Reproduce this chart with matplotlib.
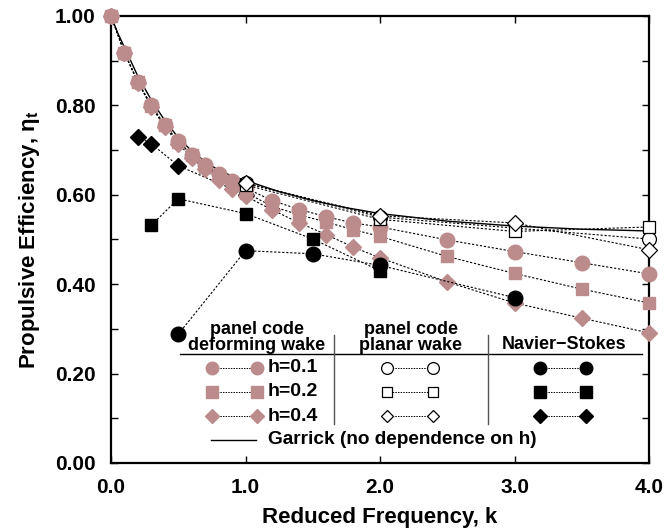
import matplotlib
matplotlib.use("Agg")
import matplotlib.pyplot as plt
from matplotlib.ticker import MultipleLocator, FormatStrFormatter

plt.rcParams['font.family'] = ['Liberation Sans', 'DejaVu Sans']
plt.rcParams['font.weight'] = 'bold'
plt.rcParams['mathtext.fontset'] = 'custom'
plt.rcParams['mathtext.rm'] = 'Liberation Sans'
plt.rcParams['mathtext.it'] = 'Liberation Sans'

PINK = '#BC8B8B'

# ---- data ----
# Garrick theory
k_garrick = [0.0, 0.05, 0.1, 0.2, 0.3, 0.4, 0.5, 0.6, 0.7, 0.8, 0.9, 1.0,
             1.25, 1.5, 1.75, 2.0, 2.5, 3.0, 3.5, 4.0]
eta_garrick = [1.0, 0.962, 0.930, 0.865, 0.812, 0.766, 0.728, 0.698, 0.674, 0.655,
               0.642, 0.632, 0.607, 0.587, 0.571, 0.558, 0.541, 0.530, 0.523, 0.519]

# panel code, deforming wake
k_dw = [0.0, 0.1, 0.2, 0.3, 0.4, 0.5, 0.6, 0.7, 0.8, 0.9, 1.0,
        1.2, 1.4, 1.6, 1.8, 2.0, 2.5, 3.0, 3.5, 4.0]
dw_h01 = [1.00, 0.918, 0.853, 0.800, 0.756, 0.720, 0.690, 0.666, 0.646, 0.630, 0.615,
          0.587, 0.567, 0.551, 0.537, 0.528, 0.499, 0.473, 0.448, 0.423]
dw_h02 = [1.00, 0.918, 0.853, 0.799, 0.755, 0.718, 0.688, 0.663, 0.642, 0.624, 0.605,
          0.574, 0.555, 0.539, 0.522, 0.507, 0.462, 0.424, 0.389, 0.358]
dw_h04 = [1.00, 0.917, 0.851, 0.797, 0.752, 0.714, 0.683, 0.657, 0.634, 0.614, 0.597,
          0.566, 0.537, 0.511, 0.483, 0.459, 0.405, 0.358, 0.324, 0.291]

# panel code, planar wake
k_pw_h01 = [1.0, 2.0, 4.0]
pw_h01 = [0.626, 0.550, 0.501]
k_pw_h02 = [1.0, 2.0, 3.0, 4.0]
pw_h02 = [0.622, 0.545, 0.518, 0.528]
k_pw_h04 = [1.0, 2.0, 3.0, 4.0]
pw_h04 = [0.626, 0.553, 0.537, 0.477]

# Navier-Stokes
k_ns_h01 = [0.5, 1.0, 1.5, 2.0, 3.0]
ns_h01 = [0.288, 0.475, 0.468, 0.442, 0.370]
k_ns_h02 = [0.3, 0.5, 1.0, 1.5, 2.0]
ns_h02 = [0.532, 0.591, 0.558, 0.501, 0.430]
k_ns_h04 = [0.2, 0.3, 0.5, 1.0]
ns_h04 = [0.730, 0.714, 0.665, 0.600]

fig = plt.figure(figsize=(6.65, 5.29), dpi=100)
ax = fig.add_axes([0.1669, 0.1248, 0.8091, 0.845])

dot = dict(color='black', linestyle=(0, (2, 1.6)), linewidth=0.8)

ax.plot(k_garrick, eta_garrick, color='black', linewidth=1.0, zorder=2)

# NS h=0.4 sits under the panel-code markers
ax.plot(k_ns_h04, ns_h04, marker='D', markersize=8, mfc='black', mec='black',
        zorder=3, clip_on=False, **dot)

for vals, m, ms in [(dw_h04, 'D', 8.0), (dw_h02, 's', 8.5), (dw_h01, 'o', 10.5)]:
    ax.plot(k_dw, vals, marker=m, markersize=ms, mfc=PINK, mec=PINK,
            zorder=4, clip_on=False, **dot)

ax.plot(k_ns_h01, ns_h01, marker='o', markersize=10.5, mfc='black', mec='black',
        zorder=5, clip_on=False, **dot)
ax.plot(k_ns_h02, ns_h02, marker='s', markersize=9.0, mfc='black', mec='black',
        zorder=5, clip_on=False, **dot)

ax.plot(k_pw_h01, pw_h01, marker='o', markersize=10, mfc='white', mec='black',
        mew=0.9, zorder=6, clip_on=False, **dot)
ax.plot(k_pw_h02, pw_h02, marker='s', markersize=9, mfc='white', mec='black',
        mew=0.9, zorder=6, clip_on=False, **dot)
ax.plot(k_pw_h04, pw_h04, marker='D', markersize=8, mfc='white', mec='black',
        mew=0.9, zorder=6, clip_on=False, **dot)

# ---- hand-built legend table ----
lfs = 13
ax.text(1.085, 0.281, 'panel code\ndeforming wake', ha='center', va='center',
        fontsize=lfs, linespacing=0.88)
ax.text(2.23, 0.281, 'panel code\nplanar wake', ha='center', va='center',
        fontsize=lfs, linespacing=0.88)
ax.text(3.368, 0.264, 'Navier\u2212Stokes', ha='center', va='center', fontsize=lfs)
ax.plot([0.513, 3.948], [0.244, 0.244], color='black', linewidth=1.0)
for xv in [1.658, 2.803]:
    ax.plot([xv, xv], [0.087, 0.286], color='#555555', linewidth=1.0)

rows_y = [0.2125, 0.159, 0.105]
row_lab = ['h=0.1', 'h=0.2', 'h=0.4']
row_mk = [('o', 9), ('s', 8), ('D', 7)]
leg = dict(color='black', linestyle=(0, (1.5, 1.2)), linewidth=0.7)
for yv, lab, (m, ms) in zip(rows_y, row_lab, row_mk):
    ax.plot([0.751, 1.085], [yv, yv], marker=m, markersize=ms, mfc=PINK, mec=PINK, **leg)
    ax.text(1.167, yv, lab, ha='left', va='center', fontsize=14)
    ax.plot([2.052, 2.394], [yv, yv], marker=m, markersize=ms - 0.5, mfc='white',
            mec='black', mew=0.9, **leg)
    ax.plot([3.19, 3.532], [yv, yv], marker=m, markersize=ms, mfc='black', mec='black', **leg)

ax.plot([0.743, 1.078], [0.0515, 0.0515], color='black', linewidth=1.0)
ax.text(1.167, 0.0515, 'Garrick (no dependence on h)', ha='left', va='center', fontsize=13.7)

# ---- axes styling ----
ax.set_xlim(0, 4)
ax.set_ylim(0, 1)
ax.xaxis.set_major_locator(MultipleLocator(1.0))
ax.xaxis.set_major_formatter(FormatStrFormatter('%.1f'))
ax.yaxis.set_major_locator(MultipleLocator(0.2))
ax.yaxis.set_minor_locator(MultipleLocator(0.1))
ax.yaxis.set_major_formatter(FormatStrFormatter('%.2f'))
ax.tick_params(which='both', direction='in', top=True, right=True, length=5,
               width=1.0, labelsize=15)
ax.tick_params(axis='y', pad=11)
ax.tick_params(axis='x', pad=11)
for s in ax.spines.values():
    s.set_linewidth(1.6)

ax.set_xlabel('Reduced Frequency, k', fontsize=16, fontweight='bold', labelpad=7)
ax.set_ylabel(r'Propulsive Efficiency, $\mathrm{\eta_t}$', fontsize=16,
              fontweight='bold', labelpad=9)

fig.savefig('out.png', dpi=100)
